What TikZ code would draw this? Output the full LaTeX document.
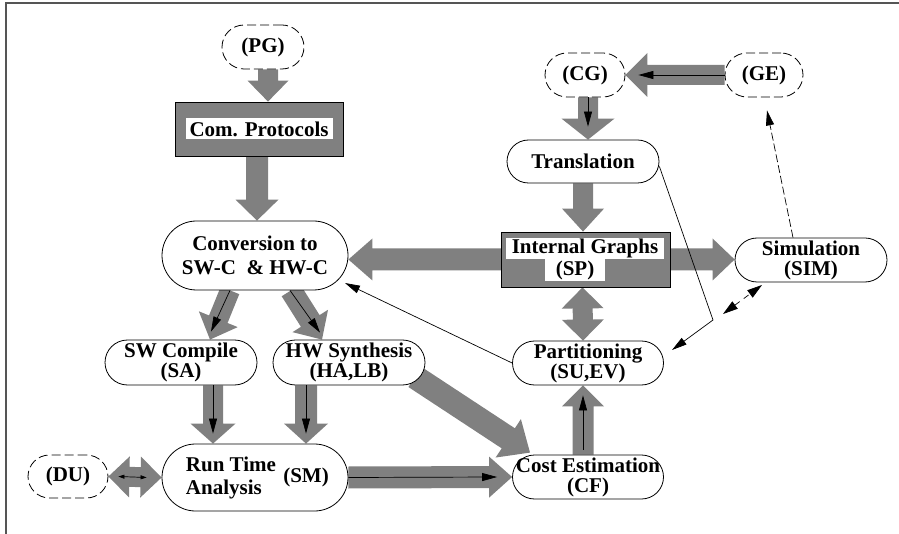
\documentclass[tikz,border=0pt]{standalone}
\usepackage{fontspec}
\setmainfont{Liberation Serif}
\usetikzlibrary{shapes.misc,arrows.meta,calc}
\pgfdeclarelayer{background}
\pgfsetlayers{background,main}
\definecolor{arrowgray}{HTML}{808080}
\definecolor{framegray}{HTML}{555555}

% wide gray block arrow: start, tip, shaft width, head width, head length
\newcommand{\blockarrow}[5]{%
  \path (#1); \pgfgetlastxy{\bax}{\bay}%
  \path (#2); \pgfgetlastxy{\bbx}{\bby}%
  \pgfmathsetmacro\baang{atan2(\bby-\bay,\bbx-\bax)}%
  \pgfmathsetmacro\balen{veclen(\bbx-\bax,\bby-\bay)}%
  \pgfmathsetmacro\babase{\balen-#5}%
  \pgfmathsetmacro\bash{#3/2}%
  \pgfmathsetmacro\bahd{#4/2}%
  \fill[arrowgray, shift={(\bax,\bay)}, rotate=\baang]
    (0pt,-\bash pt) -- (\babase pt,-\bash pt) -- (\babase pt,-\bahd pt) -- (\balen pt,0pt)
    -- (\babase pt,\bahd pt) -- (\babase pt,\bash pt) -- (0pt,\bash pt) -- cycle;}

\tikzset{
  lbl/.style={font=\bfseries\fontsize{21}{20}\selectfont, align=center, inner sep=0pt},
  pill/.style={rectangle, draw, line width=0.8pt, fill=white, lbl},
  dashpill/.style={pill, dash pattern=on 9pt off 4pt},
  graybox/.style={rectangle, draw, line width=0.8pt, fill=arrowgray, inner sep=0pt},
  whitelbl/.style={lbl, fill=white, inner xsep=2pt, inner ysep=0pt},
  thinarrow/.style={line width=0.7pt, -{Triangle[length=15pt,width=8pt]}},
  smallarrows/.style={line width=0.7pt, {Triangle[length=6pt,width=4pt]}-{Triangle[length=6pt,width=4pt]}},
}

\begin{document}
\begin{tikzpicture}[x=1pt,y=-1pt]
\useasboundingbox (0,0) rectangle (899,534);

% frame
\draw[framegray, line width=1.3pt] (899,3) -- (6,3) -- (6,534);

% left column
\node[dashpill, minimum width=82pt, minimum height=44pt, rounded corners=22pt] (pg) at (263,47) {(PG)};
\node[graybox, minimum width=168pt, minimum height=54pt] (com) at (259,129) {};
\node[whitelbl, minimum width=147pt, minimum height=21pt] (comtext) at (com.center) {Com. Protocols};
\node[pill, minimum width=186pt, minimum height=69pt, rounded corners=34.5pt,
      font=\bfseries\fontsize{21}{24}\selectfont] (conv) at (255,255.5) {Conversion to\\SW-C\ \ \& HW-C};
\node[pill, minimum width=152pt, minimum height=45pt, rounded corners=22.5pt] (sw) at (181,362.5) {SW Compile\\(SA)};
\node[pill, minimum width=152pt, minimum height=45pt, rounded corners=22.5pt] (hw) at (349,362.5) {HW Synthesis\\(HA,LB)};
\node[pill, minimum width=186pt, minimum height=67pt, rounded corners=33.5pt] (rta) at (255,477.5) {};
\node[lbl, align=left, font=\bfseries\fontsize{21}{23}\selectfont] (rtatext) at (231,478) {Run Time\\Analysis};
\node[lbl] (rtasm) at (306,477) {(SM)};
\node[dashpill, minimum width=80pt, minimum height=43pt, rounded corners=21.5pt] (du) at (68,476.5) {(DU)};

% right column
\node[dashpill, minimum width=80pt, minimum height=44pt, rounded corners=22pt] (cg) at (585,75) {(CG)};
\node[dashpill, minimum width=78pt, minimum height=44pt, rounded corners=22pt] (ge) at (764,75) {(GE)};
\node[pill, minimum width=152pt, minimum height=43pt, rounded corners=21.5pt] (tr) at (583,161.5) {Translation};
\node[graybox, minimum width=169pt, minimum height=55pt] (ig) at (585.5,259.5) {};
\node[whitelbl, minimum width=158pt, minimum height=21pt] (igtext) at (585,248.5) {Internal Graphs};
\node[whitelbl, minimum width=60pt, minimum height=22pt] (igsp) at (575,270) {(SP)};
\node[pill, minimum width=152pt, minimum height=44pt, rounded corners=22pt] (sim) at (811,260) {Simulation\\(SIM)};
\node[pill, minimum width=151pt, minimum height=44pt, rounded corners=22pt] (part) at (588,363) {Partitioning\\(SU,EV)};
\node[pill, minimum width=151pt, minimum height=44pt, rounded corners=22pt] (cost) at (588,477) {Cost Estimation\\(CF)};

% helper points
\coordinate (convtip) at (345,283);
\coordinate (bend) at (713,320);
\coordinate (parttip) at (672,350);
\coordinate (pa) at (723,314);
\coordinate (pb) at (762,285);
\coordinate (swout) at ([xshift=32pt]sw.south);
\coordinate (swin) at (swout |- rta.north);
\coordinate (hwout) at ([xshift=-43pt]hw.south);
\coordinate (hwin) at (hwout |- rta.north);
\coordinate (convleft) at (conv.east |- ig.center);
\coordinate (simleft) at (sim.west |- ig.center);
\coordinate (trdown) at (tr.south |- ig.north);
\coordinate (igpart) at ($([xshift=-3pt]ig.south)!0.5!([xshift=-5pt]part.north)$);
\coordinate (durta) at ($(du.east)!0.5!(rta.west)$);

% wide gray flow arrows
\begin{pgfonlayer}{background}
\blockarrow{[xshift=5pt]pg.south}{[xshift=9pt]com.north}{20}{41}{21}
\blockarrow{[xshift=-2pt]com.south}{[xshift=2pt]conv.north}{22}{43}{21}
\blockarrow{ig.center}{convleft}{22}{42}{24}
\blockarrow{ig.center}{simleft}{22}{42}{22}
\blockarrow{tr.south}{trdown}{20}{42}{23}
\blockarrow{[xshift=3pt]cg.south}{[xshift=5pt]tr.north}{20}{53}{21}
\blockarrow{ge.west}{cg.east}{20}{44}{22}
\blockarrow{igpart}{[xshift=-3pt]ig.south}{20}{42}{21}
\blockarrow{igpart}{[xshift=-5pt]part.north}{20}{42}{21}
\blockarrow{[xshift=-5pt]cost.north}{[xshift=-5pt]part.south}{21}{42}{21}
\blockarrow{swout}{swin}{20}{45}{20}
\blockarrow{hwout}{hwin}{22}{44}{20}
\blockarrow{rta.east}{cost.west}{22}{41}{23}
\blockarrow{durta}{du.east}{20}{41}{21}
\blockarrow{durta}{rta.west}{20}{41}{21}
\blockarrow{[xshift=-25pt]conv.south}{[xshift=29pt]sw.north}{20}{42}{22}
\blockarrow{[xshift=36pt]conv.south}{[xshift=-27pt]hw.north}{22}{42}{22}
\blockarrow{[shift={(66,14.5)}]hw.center}{[shift={(-58,-2)}]cost.north}{24}{46}{26}
\end{pgfonlayer}

% thin black arrows
\draw[thinarrow] (ge.west) -- ([xshift=13pt]cg.east);
\draw[thinarrow] ([xshift=3pt]cg.south) -- ([xshift=5pt,yshift=13pt]tr.north);
\draw[thinarrow] ([xshift=-5pt,yshift=5pt]cost.north) -- ([xshift=-5pt,yshift=-10pt]part.south);
\draw[thinarrow] (swout) -- ([yshift=10pt]swin);
\draw[thinarrow] (hwout) -- ([yshift=10pt]hwin);
\draw[thinarrow] (rta.east) -- ([xshift=-15pt]cost.west);
\draw[thinarrow] ([xshift=-25pt]conv.south) -- ([shift={(30,-8)}]sw.north);
\draw[thinarrow] ([xshift=35pt]conv.south) -- ([shift={(-29,-7)}]hw.north);
\draw[smallarrows] ([xshift=10pt]du.east) -- ([xshift=-15pt]rta.west);
\draw[thinarrow] (part.west) -- (convtip);
\draw[thinarrow] ([yshift=-5pt]tr.east) -- (bend) -- (parttip);
\draw[thinarrow, dash pattern=on 8pt off 3pt] ([xshift=-18pt]sim.north) -- ([shift={(3,13)}]ge.south);
\draw[line width=0.7pt, {Triangle[length=15pt,width=9pt]}-{Triangle[length=15pt,width=9pt]},
      dash pattern=on 6pt off 5pt] (pa) -- (pb);
\end{tikzpicture}
\end{document}
